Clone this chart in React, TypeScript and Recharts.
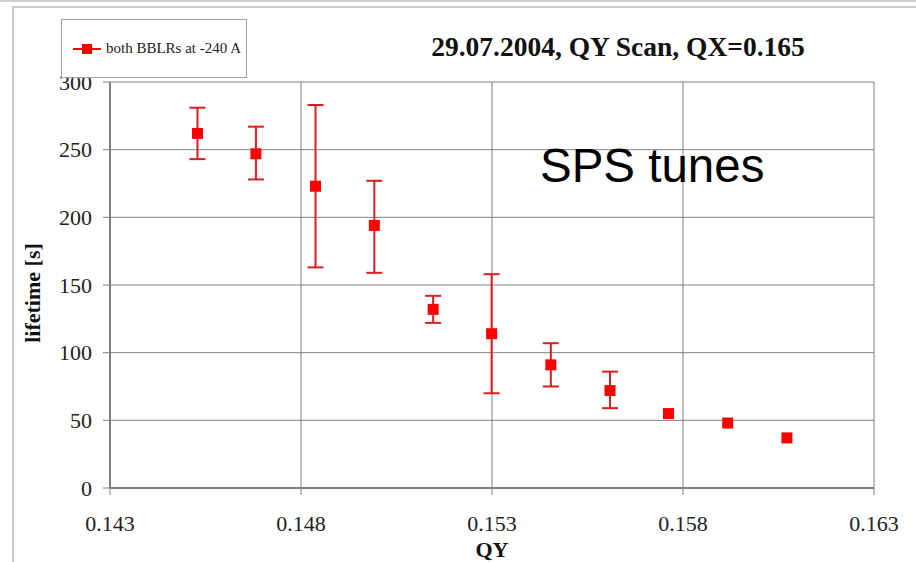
import {
  ScatterChart,
  Scatter,
  XAxis,
  YAxis,
  CartesianGrid,
  ErrorBar,
  Legend,
} from "recharts";

const qy = [
  0.14529, 0.14682, 0.14838, 0.14992, 0.15146, 0.15299, 0.15454, 0.15609,
  0.15762, 0.15917, 0.16072,
];
const lifetime = [262, 247, 223, 194, 132, 114, 91, 72, 55, 48, 37];
// null where the reference shows no error bar
const errMinus = [19, 19, 60, 35, 10, 44, 16, 13, null, null, null];
const errPlus = [19, 20, 60, 33, 10, 44, 16, 14, null, null, null];
const xTicks = [0.143, 0.148, 0.153, 0.158, 0.163];
const yTicks = [0, 50, 100, 150, 200, 250, 300];
const seriesName = "both BBLRs at -240 A";

const data = qy.map((x, i) => ({
  qy: x,
  life: lifetime[i],
  err: errMinus[i] == null ? null : [errMinus[i], errPlus[i]],
}));

const serif = "'Liberation Serif', 'Times New Roman', serif";
const RED = "#ff0000";
const BAR_RED = "#d81e1e";

const SquareMark = (props: any) => {
  const { cx, cy } = props;
  if (cx == null || cy == null) return null;
  return <rect x={cx - 5.5} y={cy - 5.5} width={11} height={11} fill={RED} />;
};

function LegendBox() {
  return (
    <div style={{ display: "flex", alignItems: "center", height: "100%", paddingLeft: 10 }}>
      <svg width={30} height={12}>
        <line x1={1} y1={6} x2={29} y2={6} stroke={RED} strokeWidth={2} />
        <rect x={10} y={1} width={10} height={10} fill={RED} />
      </svg>
      <span style={{ fontFamily: serif, fontSize: 15, color: "#222", marginLeft: 4 }}>
        {seriesName}
      </span>
    </div>
  );
}

export default function App() {
  return (
    <div style={{ position: "absolute", left: 0, top: 0, width: 916, height: 562, background: "#fff" }}>
      {/* page frame */}
      <div style={{ position: "absolute", left: 0, top: 0, width: 916, height: 1, borderTop: "2px solid #cfcfcf" }} />
      <div
        style={{
          position: "absolute",
          left: 12,
          top: 6,
          width: 904,
          height: 556,
          borderLeft: "2px solid #c8c8c8",
          borderTop: "2px solid #c8c8c8",
          boxSizing: "border-box",
        }}
      />
      <ScatterChart
        width={916}
        height={562}
        margin={{ top: 82, right: 42, bottom: 0, left: 0 }}
        style={{ position: "absolute", left: 0, top: 0 }}
      >
        <CartesianGrid stroke="#808080" strokeWidth={1} />
        <XAxis
          type="number"
          dataKey="qy"
          domain={[0.143, 0.163]}
          ticks={xTicks}
          tickFormatter={(v: number) => v.toFixed(3)}
          height={74}
          tickSize={7}
          tickMargin={20}
          axisLine={{ stroke: "#808080", strokeWidth: 2 }}
          tickLine={{ stroke: "#808080" }}
          tick={{ fontFamily: serif, fontSize: 22, fill: "#222" }}
          label={{
            value: "QY",
            position: "insideBottom",
            offset: 5,
            style: { fontFamily: serif, fontSize: 22, fontWeight: "bold", fill: "#111" },
          }}
        />
        <YAxis
          type="number"
          dataKey="life"
          domain={[0, 300]}
          ticks={yTicks}
          width={110}
          tickSize={7}
          tickMargin={11}
          axisLine={{ stroke: "#808080", strokeWidth: 2 }}
          tickLine={{ stroke: "#808080" }}
          tick={{ fontFamily: serif, fontSize: 22, fill: "#222" }}
          label={{
            value: "lifetime [s]",
            content: () => (
              <text
                x={32}
                y={293}
                transform="rotate(-90 32 293)"
                textAnchor="middle"
                dominantBaseline="central"
                fontFamily={serif}
                fontSize={22}
                fontWeight="bold"
                fill="#111"
              >
                lifetime [s]
              </text>
            ),
          }}
        />
        <Scatter
          name={seriesName}
          data={data}
          fill={RED}
          shape={SquareMark}
          isAnimationActive={false}
        >
          <ErrorBar
            dataKey="err"
            direction="y"
            width={8}
            stroke={BAR_RED}
            strokeWidth={2}
          />
        </Scatter>
        <Legend
          layout="horizontal"
          verticalAlign="middle"
          align="center"
          content={() => <LegendBox />}
          wrapperStyle={{
            top: 19,
            left: 61,
            width: 186,
            height: 59,
            background: "#fff",
            border: "1.5px solid #a0a0a0",
            boxSizing: "border-box",
          }}
        />
      </ScatterChart>
      <div
        style={{
          position: "absolute",
          left: 618,
          top: 47,
          transform: "translate(-50%, -50%)",
          fontFamily: serif,
          fontSize: 27.5,
          fontWeight: "bold",
          color: "#111",
          whiteSpace: "nowrap",
        }}
      >
        29.07.2004, QY Scan, QX=0.165
      </div>
      <div
        style={{
          position: "absolute",
          left: 540,
          top: 165,
          transform: "translateY(-50%)",
          fontFamily: "'Liberation Sans', Arial, sans-serif",
          fontSize: 47.5,
          color: "#000",
          whiteSpace: "nowrap",
        }}
      >
        SPS tunes
      </div>
    </div>
  );
}
